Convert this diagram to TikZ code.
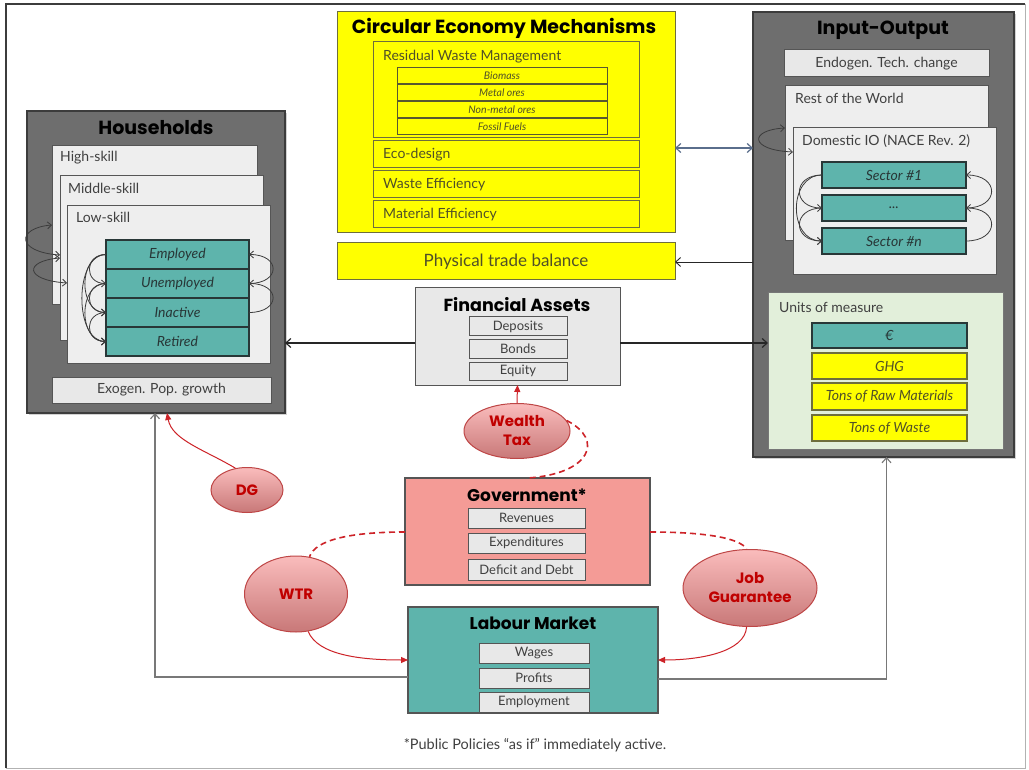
\documentclass[tikz,border=0pt]{standalone}
\usepackage{fontspec}
\setmainfont{Lato}
\newfontfamily\popp{Poppins}
\usetikzlibrary{arrows.meta,shapes.geometric,shadows}
\newcommand{\fsz}[1]{\fontsize{#1}{#1}\selectfont}
\definecolor{dkfill}{RGB}{110,110,110}
\definecolor{dkline}{RGB}{60,60,60}
\definecolor{ltfill}{RGB}{232,232,232}
\definecolor{skfill}{RGB}{238,238,238}
\definecolor{ltline}{RGB}{85,85,85}
\definecolor{tealf}{RGB}{94,180,172}
\definecolor{tealline}{RGB}{40,55,55}
\definecolor{yel}{RGB}{255,255,0}
\definecolor{yelline}{RGB}{110,110,60}
\definecolor{olivetext}{RGB}{80,80,40}
\definecolor{govf}{RGB}{244,155,150}
\definecolor{uomf}{RGB}{226,239,218}
\definecolor{polf}{RGB}{250,188,188}
\definecolor{poldark}{RGB}{200,120,120}
\definecolor{polline}{RGB}{190,70,70}
\definecolor{polred}{RGB}{192,0,0}
\definecolor{arrred}{RGB}{205,35,40}
\definecolor{conngray}{RGB}{120,120,120}
\definecolor{txtgray}{RGB}{64,64,64}
\definecolor{slate}{RGB}{90,110,140}
\tikzset{
  every node/.style={font=\fsz{14}, text=txtgray},
  nw/.style={anchor=north west, inner sep=0pt, outer sep=0pt},
  darkbox/.style={nw, fill=dkfill, draw=dkline, line width=1.6pt, drop shadow={shadow xshift=2pt, shadow yshift=-2pt, opacity=0.35}},
  ltbox/.style={nw, fill=ltfill, draw=ltline, line width=1pt},
  skillbox/.style={nw, fill=skfill, draw=ltline, line width=0.9pt},
  tealbox/.style={nw, fill=tealf, draw=tealline, line width=1.2pt, font=\fsz{14}\itshape, text=tealline},
  yelbox/.style={nw, fill=yel, draw=yelline, line width=1pt, text=olivetext},
  subyel/.style={nw, fill=yel, draw=yelline!80!black, line width=1pt, text=olivetext, font=\fsz{10.5}\itshape},
  uomitem/.style={nw, fill=yel, draw=yelline, line width=1.2pt, text=olivetext, font=\fsz{14}\itshape},
  govbox/.style={nw, fill=govf, draw=ltline, line width=1.2pt},
  lmbox/.style={nw, fill=tealf, draw=ltline, line width=1.2pt},
  uombox/.style={nw, fill=uomf, draw=ltline!80, line width=1pt},
  ttl/.style={font=\popp\bfseries\fsz{19}, text=black, inner sep=0pt},
  lbl/.style={anchor=west, inner sep=0pt},
  policy/.style={ellipse, draw=polline, line width=1pt, top color=polf, middle color=polf, bottom color=poldark, text=polred, font=\popp\bfseries\fontsize{15}{19}\selectfont, align=center, inner sep=0pt},
  curv/.style={draw=dkline, line width=0.8pt, arrows={-Straight Barb[length=4pt,width=7pt]}},
  curvb/.style={draw=dkline, line width=0.8pt, arrows={Straight Barb[length=4pt,width=7pt]-Straight Barb[length=4pt,width=7pt]}},
  redarr/.style={draw=arrred, line width=1pt, arrows={-Triangle[length=7pt,width=6pt]}},
  reddash/.style={draw=arrred, line width=1.6pt, dash pattern=on 6pt off 4pt},
  grayarr/.style={draw=conngray, line width=1.1pt, arrows={-Straight Barb[length=5pt,width=9pt]}},
  blkarr/.style={draw=black!85, line width=1.2pt, arrows={-Straight Barb[length=5pt,width=9pt]}},
}
\begin{document}
\begin{tikzpicture}[x=1pt,y=-1pt]
\useasboundingbox (0,0) rectangle (1029,770);
\fill[white] (0,0) rectangle (1029,770);
% frame
\draw[line width=0.8pt, color=black!30] (6,4) rectangle (1025,768);
\draw[line width=2pt, color=dkline] (6,768) -- (6,4) -- (1025,4);

% ---------------- Households
\node[darkbox, minimum width=258pt, minimum height=302pt] (hh) at (27,111) {};
\node[ttl] (hht) at (156,128) {Households};
\node[skillbox, minimum width=205pt, minimum height=159pt] (high) at (52,145) {};
\node[lbl] (highl) at (60,158) {High-skill};
\node[skillbox, minimum width=203pt, minimum height=165pt] (mid) at (60,175) {};
\node[lbl] (midl) at (68,188) {Middle-skill};
\node[skillbox, minimum width=203pt, minimum height=158pt] (low) at (67,205) {};
\node[lbl] (lowl) at (76,217) {Low-skill};
\node[tealbox, minimum width=143pt, minimum height=29pt] (emp) at (106,240) {Employed};
\node[tealbox, minimum width=143pt, minimum height=29pt] (unemp) at (106,269) {Unemployed};
\node[tealbox, minimum width=143pt, minimum height=29pt] (inact) at (106,298) {Inactive};
\node[tealbox, minimum width=143pt, minimum height=29pt] (ret) at (106,327) {Retired};
\node[ltbox, minimum width=219pt, minimum height=26pt] (pop) at (52,377) {Exogen. Pop. growth};

\draw[curvb] (high.west |- 0,225) .. controls (16,228) and (16,252) .. (mid.west |- 0,255);
\draw[curvb] (mid.west |- 0,258) .. controls (24,261) and (24,280) .. (low.west |- 0,283);
\draw[curv] (emp.west) .. controls +(-22,0) and +(-22,0) .. (unemp.west);
\draw[curv] (emp.west) .. controls +(-28,0) and +(-28,0) .. (inact.west);
\draw[curv] (emp.west) .. controls +(-32,0) and +(-32,0) .. (ret.west);
\draw[curv] (unemp.west) .. controls +(-22,0) and +(-22,0) .. (inact.west);
\draw[curv] (unemp.west) .. controls +(-28,0) and +(-28,0) .. (ret.west);
\draw[curv] (inact.west) .. controls +(-22,0) and +(-22,0) .. (ret.west);
\draw[curv] (unemp.east) .. controls +(32,0) and +(32,0) .. (emp.east);
\draw[curv] (inact.east) .. controls +(32,0) and +(32,0) .. (unemp.east);

% ---------------- Circular economy
\node[yelbox, minimum width=338pt, minimum height=221pt] (ce) at (337,12) {};
\node[ttl] (cet) at (504,28) {Circular Economy Mechanisms};
\node[yelbox, minimum width=266pt, minimum height=96pt] (rwm) at (373,42) {};
\node[lbl, text=olivetext] (rwml) at (383,57) {Residual Waste Management};
\node[subyel, minimum width=210pt, minimum height=16pt] (bio) at (397,68) {Biomass};
\node[subyel, minimum width=210pt, minimum height=16pt] (met) at (397,85) {Metal ores};
\node[subyel, minimum width=210pt, minimum height=16pt] (nmet) at (397,102) {Non-metal ores};
\node[subyel, minimum width=210pt, minimum height=16pt] (fos) at (397,119) {Fossil Fuels};
\node[yelbox, minimum width=266pt, minimum height=27pt] (eco) at (373,141) {};
\node[lbl, text=olivetext] (ecol) at (383,154.5) {Eco-design};
\node[yelbox, minimum width=266pt, minimum height=27pt] (wef) at (373,171) {};
\node[lbl, text=olivetext] (wefl) at (383,184.5) {Waste Efficiency};
\node[yelbox, minimum width=266pt, minimum height=27pt] (mef) at (373,201) {};
\node[lbl, text=olivetext] (mefl) at (383,214.5) {Material Efficiency};
\node[yelbox, minimum width=338pt, minimum height=37pt, font=\fsz{17}] (ptb) at (337,243) {Physical trade balance};

% ---------------- Input-Output
\node[darkbox, minimum width=261pt, minimum height=445pt] (io) at (753,12) {};
\node[ttl] (iot) at (883,30) {Input-Output};
\node[ltbox, minimum width=205pt, minimum height=27pt] (etc) at (784,50) {Endogen. Tech. change};
\node[skillbox, minimum width=203pt, minimum height=155pt] (row) at (785,85) {};
\node[lbl] (rowl) at (795,98) {Rest of the World};
\node[skillbox, minimum width=203pt, minimum height=147pt] (dio) at (793,127) {};
\node[lbl] (diol) at (802,141) {Domestic IO (NACE Rev. 2)};
\node[tealbox, minimum width=144pt, minimum height=26pt] (s1) at (822,162) {Sector \#1};
\node[tealbox, minimum width=144pt, minimum height=26pt] (sd) at (822,195) {...};
\node[tealbox, minimum width=144pt, minimum height=26pt] (sn) at (822,228) {Sector \#n};
\draw[curvb] (row.west |- 0,128) .. controls (749,130) and (749,150) .. (dio.west |- 0,152);
\draw[curv] (s1.west) .. controls +(-30,0) and +(-30,0) .. (sd.west);
\draw[curv] (s1.west) .. controls +(-34,0) and +(-34,0) .. (sn.west);
\draw[curv] (sd.west) .. controls +(-30,0) and +(-30,0) .. (sn.west);
\draw[curv] (sd.east) .. controls +(34,0) and +(34,0) .. (s1.east);
\draw[curv] (sn.east) .. controls +(34,0) and +(34,0) .. (sd.east);

\node[uombox, minimum width=235pt, minimum height=156pt] (uom) at (768,293) {};
\node[lbl] (uoml) at (779,307) {Units of measure};
\node[tealbox, minimum width=155pt, minimum height=25pt] (eur) at (812,323) {€};
\node[uomitem, minimum width=155pt, minimum height=26pt] (ghg) at (812,353) {GHG};
\node[uomitem, minimum width=155pt, minimum height=27pt] (traw) at (812,383) {Tons of Raw Materials};
\node[uomitem, minimum width=155pt, minimum height=26pt] (twaste) at (812,415) {Tons of Waste};

% ---------------- Financial assets
\node[ltbox, minimum width=205pt, minimum height=97pt] (fa) at (415,288) {};
\node[ttl, font=\popp\bfseries\fsz{17.5}] (fat) at (517,305) {Financial Assets};
\node[ltbox, minimum width=98pt, minimum height=19pt, font=\fsz{13}] (dep) at (469,317) {Deposits};
\node[ltbox, minimum width=98pt, minimum height=18pt, font=\fsz{13}] (bon) at (469,340) {Bonds};
\node[ltbox, minimum width=98pt, minimum height=18pt, font=\fsz{13}] (equ) at (469,362) {Equity};

% ---------------- Government
\node[govbox, minimum width=245pt, minimum height=107pt] (gov) at (405,478) {};
\node[ttl, font=\popp\bfseries\fsz{17}] (govt) at (527,495) {Government*};
\node[ltbox, minimum width=117pt, minimum height=20pt, font=\fsz{13}] (rev) at (468,508) {Revenues};
\node[ltbox, minimum width=117pt, minimum height=20pt, font=\fsz{13}] (exp) at (468,533) {Expenditures};
\node[ltbox, minimum width=117pt, minimum height=21pt, font=\fsz{13}] (dd) at (468,559) {Deficit and Debt};

% ---------------- Labour market
\node[lmbox, minimum width=250pt, minimum height=106pt] (lm) at (408,607) {};
\node[ttl, font=\popp\bfseries\fsz{17}] (lmt) at (533,623) {Labour Market};
\node[ltbox, minimum width=110pt, minimum height=20pt, font=\fsz{13}] (wag) at (479,643) {Wages};
\node[ltbox, minimum width=110pt, minimum height=20pt, font=\fsz{13}] (pro) at (479,668) {Profits};
\node[ltbox, minimum width=110pt, minimum height=20pt, font=\fsz{13}] (emt) at (479,692) {Employment};

% ---------------- Policies
\node[policy, minimum width=106pt, minimum height=55pt] (wt) at (517,431) {Wealth\\Tax};
\node[policy, minimum width=72pt, minimum height=45pt] (dg) at (247,490) {DG};
\node[policy, minimum width=103pt, minimum height=76pt] (wtr) at (296,594) {WTR};
\node[policy, minimum width=134pt, minimum height=77pt] (jg) at (750,588) {Job\\Guarantee};

% ---------------- Connectors
\draw[blkarr] (fa.west |- 0,343) -- (hh.east |- 0,343);
\draw[blkarr] (fa.east |- 0,343) -- (uom.west |- 0,343);
\draw[blkarr, line width=0.9pt] (io.west |- 0,262) -- (ptb.east |- 0,262);
\draw[draw=slate, line width=1.2pt, arrows={Straight Barb[length=5pt,width=9pt]-Straight Barb[length=5pt,width=9pt]}] (ce.east |- 0,148) -- (io.west |- 0,148);
\draw[grayarr] (lm.west |- 0,677) -| ([xshift=-1pt]hh.south);
\draw[grayarr] (lm.east |- 0,679) -| ([xshift=3pt]io.south);

\draw[redarr] (wt.north) -- (fa.south);
\draw[redarr] (dg.118) .. controls (205,450) and (172,440) .. ([xshift=11pt]hh.south);
\draw[redarr] (wtr.-72) .. controls (318,655) and (360,660) .. (lm.west |- 0,660);
\draw[redarr] (jg.-95) .. controls (745,652) and (700,660) .. (lm.east |- 0,660);

\draw[reddash] (wt.12) .. controls (605,440) and (590,474) .. (gov.north);
\draw[reddash] (gov.west |- 0,532) .. controls (350,532) and (315,540) .. (wtr.70);
\draw[reddash] (gov.east |- 0,532) .. controls (705,532) and (740,538) .. (jg.95);

\node[font=\fsz{14.5}] (note) at (535,745) {*Public Policies “as if” immediately active.};
\end{tikzpicture}
\end{document}
